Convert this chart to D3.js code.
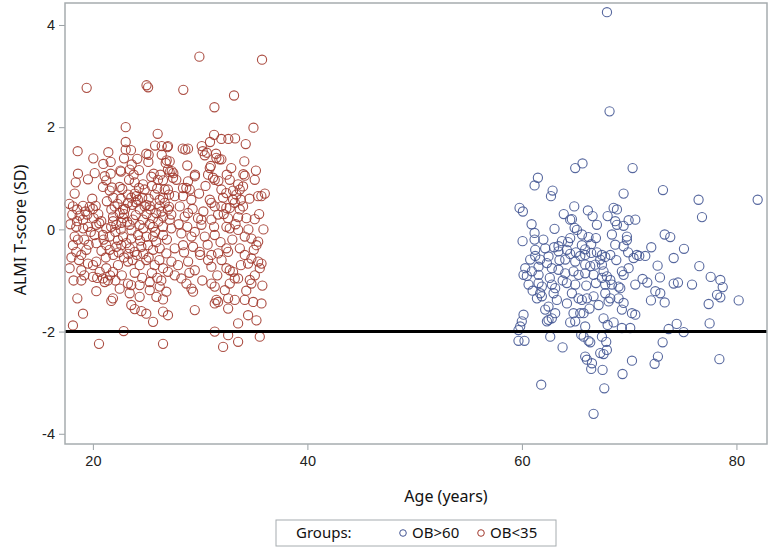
<!DOCTYPE html>
<html>
<head>
<meta charset="utf-8">
<script src="https://cdn.jsdelivr.net/npm/d3@7"></script>
<style>
  body { margin: 0; background: #fff; }
  svg { display: block; font-family: "Noto Sans", "Open Sans", sans-serif; }
  .tick text { fill: #222; font-size: 14.5px; }
  .tick line { stroke: #9aa1a5; }
</style>
</head>
<body>
<svg id="chart" width="770" height="549"></svg>
<script>
// ALMI T-score by age, two groups
const groupNames = ["OB>60", "OB<35"];
const groupColors = ["#445694", "#A23A2E"];
const xTicks = [20, 40, 60, 80];
const yTicks = [-4, -2, 0, 2, 4];
const cutoff = -2;

// OB<35 : [age, T-score]
const youngPoints = [
  [19.42,2.77],[25.0,2.82],[25.15,2.78],[29.93,3.38],[35.77,3.32],[28.43,2.73],[33.16,2.62],[31.33,2.39],
  [34.97,1.99],[23.06,2.0],[26.04,1.87],[31.3,1.85],[31.98,1.77],[32.63,1.77],[33.26,1.78],[34.25,1.67],
  [18.58,1.53],[20.04,1.39],[21.44,1.51],[20.97,1.28],[21.66,1.32],[23.06,1.71],[23.06,1.56],[23.55,1.55],
  [22.9,1.39],[23.62,1.27],[24.14,1.38],[24.3,1.16],[24.98,1.48],[25.2,1.46],[25.17,1.32],[25.8,1.64],
  [26.42,1.63],[26.94,1.61],[26.42,1.46],[26.88,1.35],[28.38,1.58],[28.62,1.56],[28.87,1.58],[28.8,1.25],
  [30.15,1.63],[30.24,1.53],[30.43,1.45],[30.62,1.5],[30.92,1.71],[31.48,1.48],[31.79,1.37],[31.98,1.37],
  [30.99,1.24],[34.12,1.33],[20.17,1.1],[18.61,1.09],[21.66,1.09],[22.62,1.13],[27.35,1.14],[27.5,1.1],
  [29.52,1.07],[32.48,1.07],[34.03,1.08],
  [26.79,1.3],[18.4,0.92],[19.54,0.98],[21.1,1.04],[21.25,0.96],[20.94,0.83],[21.78,0.82],[21.57,0.76],
  [22.56,1.15],[23.43,1.17],[23.8,1.07],[23.37,0.97],[23.9,0.92],[24.3,0.81],[24.67,0.88],[24.83,0.78],
  [24.05,0.65],[25.45,1.03],[25.67,1.09],[26.29,1.07],[26.07,0.97],[26.54,0.96],[27.16,1.12],[22.5,0.83],
  [22.74,0.79],[23.27,0.68],[23.58,0.62],[26.7,0.78],[27.1,0.68],[26.54,0.62],[26.23,0.58],
  [19.94,0.6],[20.26,0.46],[19.7,0.44],[19.08,0.46],[18.14,0.45],[18.54,0.39],[18.08,0.29],[18.77,0.27],
  [19.48,0.29],[20.07,0.22],[22.03,0.45],[21.72,0.39],[21.88,0.25],[22.5,0.32],[22.81,0.22],
  [23.27,0.52],[23.68,0.48],[23.99,0.53],[24.37,0.39],[24.83,0.45],[24.98,0.48],[25.3,0.46],[25.36,0.39],
  [25.76,0.68],[26.23,0.45],[26.7,0.52],[27.1,0.44],[25.91,0.32],[26.54,0.25],[25.6,0.22],[24.67,0.19],
  [23.74,0.19],[22.81,0.39],[18.52,0.16],[19.08,0.19],[20.78,0.16],[21.88,0.16],[22.65,0.13],
  [27.0,1.63],[31.51,1.4],[27.16,1.33],[27.0,1.17],[27.78,0.97],[27.47,1.01],[29.5,1.04],[28.87,0.94],
  [28.4,0.81],[30.9,1.2],[30.74,1.07],[31.2,1.01],[31.36,0.97],[32.76,0.97],[33.54,0.88],[34.0,0.84],
  [34.16,1.05],[35.09,0.97],[31.98,0.78],[32.44,0.71],[33.07,0.76],[33.38,0.68],[33.69,0.78],[33.79,0.58],
  [32.14,0.62],[33.07,0.58],[35.4,0.65],[35.71,0.65],[36.03,0.7],[27.0,0.78],[27.63,0.65],[28.4,0.65],
  [29.18,0.58],[28.71,0.81],[29.03,0.78],[30.9,0.58],[31.05,0.52],[31.36,0.45],[31.98,0.45],[32.44,0.42],
  [32.76,0.42],[33.23,0.52],[33.69,0.39],[27.0,0.39],[27.31,0.29],[27.16,0.19],[28.56,0.25],[28.87,0.32],
  [29.8,0.22],[30.11,0.19],[31.05,0.19],[31.67,0.29],[32.6,0.22],[33.54,0.24],[34.31,0.22],[35.09,0.2],
  [18.45,0.05],[19.54,0.05],[20.32,0.09],[21.25,0.02],[22.19,0.09],[23.43,0.09],[24.36,0.09],[25.61,0.05],
  [26.54,0.05],[18.3,-0.14],[20.16,-0.11],[20.94,-0.11],[21.56,-0.14],[22.34,-0.21],[22.81,-0.14],[23.58,-0.18],
  [24.21,-0.11],[24.98,-0.14],[25.61,-0.14],[26.54,-0.11],[18.14,-0.31],[18.45,-0.44],[18.92,-0.5],[19.39,-0.4],
  [20.32,-0.27],[21.25,-0.31],[21.56,-0.4],[22.19,-0.34],[22.65,-0.31],[23.12,-0.27],[23.43,-0.37],[23.9,-0.44],
  [24.52,-0.34],[25.14,-0.31],[25.61,-0.4],[26.23,-0.37],[26.85,-0.47],[17.83,-0.76],[18.92,-0.8],[19.54,-0.67],
  [20.01,-0.7],[20.32,-0.63],[20.63,-0.83],[21.25,-0.76],[21.87,-0.83],[22.34,-0.7],[23.27,-0.63],[24.36,-0.7],
  [24.98,-0.6],[25.76,-0.7],[26.54,-0.76],[27.0,-0.83],[18.92,-1.0],[20.01,-0.93],[20.94,-0.96],[21.1,-1.03],
  [21.41,-1.0],[23.27,-1.06],[23.58,-1.09],[24.36,-1.09],[25.3,-1.03],[26.23,-1.12],[26.85,-1.22],[26.38,-1.0],
  [20.32,-1.21],[22.5,-1.16],[23.43,-1.25],[25.3,-1.19],[25.92,-1.32],[26.54,-1.37],[18.55,-1.35],[21.72,-1.4],
  [21.87,-1.35],[24.36,-1.32],[23.58,-1.48],[23.9,-1.56],[24.52,-1.6],[24.98,-1.65],[25.61,-1.81],[26.54,-1.61],
  [27.0,-1.68],[19.08,-1.65],[18.14,-1.88],[22.87,-1.99],[20.57,-2.24],[26.54,-2.24],
  [27.32,0.02],[28.25,-0.08],[29.19,-0.14],[30.12,0.09],[30.43,-0.14],[31.36,-0.11],[32.45,0.05],[32.76,0.02],
  [33.54,-0.01],[34.16,-0.14],[34.78,-0.18],[35.41,-0.24],[35.25,-0.31],[27.63,-0.37],[28.41,-0.31],[29.34,-0.34],
  [29.96,-0.44],[31.05,-0.5],[31.67,-0.47],[32.45,-0.37],[32.61,-0.44],[33.7,-0.37],[34.16,-0.5],[34.78,-0.57],
  [35.41,-0.63],[27.32,-0.63],[27.94,-0.7],[28.88,-0.63],[29.5,-0.8],[30.74,-0.6],[31.05,-0.73],[32.45,-0.76],
  [32.76,-0.8],[33.07,-0.83],[33.23,-0.96],[34.47,-0.67],[35.72,-0.67],[35.56,-0.76],[34.63,-0.99],[27.63,-0.9],
  [28.25,-0.96],[28.72,-1.06],[29.19,-1.16],[29.34,-1.22],[31.05,-1.06],[31.36,-1.12],[32.3,-1.19],[32.76,-1.06],
  [33.54,-0.96],[34.78,-1.06],[31.52,-1.38],[31.67,-1.42],[31.36,-1.45],[32.61,-1.35],[33.23,-1.38],[34.16,-1.38],
  [34.94,-1.42],[35.72,-1.45],[32.61,-1.55],[29.5,-1.58],[34.47,-1.68],[35.25,-1.78],[33.54,-1.84],
  [31.36,-2.0],[32.61,-2.07],[33.54,-2.2],[32.14,-2.3],[35.56,-2.1],
  [19.1,0.02],[19.8,-0.05],[20.6,0.12],[21.0,-0.2],[21.7,0.05],[22.1,-0.05],[22.6,0.0],[22.9,0.3],
  [23.2,0.15],[23.6,-0.02],[24.0,0.28],[24.4,-0.22],[24.7,0.02],[25.0,0.3],[25.3,0.1],[25.8,-0.05],
  [26.1,0.15],[26.9,-0.2],[19.3,0.35],[20.0,0.4],[20.5,0.3],[21.3,0.55],[21.9,0.62],[22.3,0.5],
  [22.6,0.6],[23.0,0.4],[23.9,0.7],[24.2,0.58],[24.6,0.62],[25.2,0.6],[25.5,0.85],[26.0,0.8],
  [26.4,0.35],[19.2,-0.2],[19.6,-0.3],[20.8,-0.42],[21.2,-0.55],[21.9,-0.5],[22.4,-0.45],[22.9,-0.55],
  [23.3,-0.48],[23.7,-0.6],[24.1,-0.5],[24.7,-0.48],[25.2,-0.55],[25.9,-0.25],[26.2,-0.6],[18.7,-0.6],
  [19.2,-0.9],[20.4,-0.95],[21.6,-0.9],[22.1,-1.0],[22.7,-0.9],[23.9,-0.85],[24.6,-0.95],[25.5,-0.85],
  [26.0,-0.95],[28.0,0.1],[28.8,0.05],[29.5,-0.05],[30.3,0.35],[30.7,-0.3],[31.3,0.05],[31.9,-0.25],
  [32.2,0.3],[33.0,-0.2],[33.3,0.1],[34.0,0.45],[34.5,0.0],[35.0,-0.4],[35.5,0.3],[28.1,0.45],
  [29.3,0.4],[29.9,0.7],[30.5,0.85],[31.7,0.95],[32.9,1.2],[34.6,0.6],[35.2,1.15],[35.8,-1.1],
  [35.9,0.0],[28.5,-0.45],[29.0,-0.85],[30.2,-1.0],[30.0,-0.5],[31.6,-0.9],[32.0,-0.6],[33.8,-0.7],
  [34.3,-1.2],[35.1,-0.9],[17.9,0.1],[18.0,-0.55],[18.3,0.7],[18.2,-1.0],[17.8,0.5],[18.6,-0.2]
];

// OB>60 : [age, T-score]
const oldPoints = [
  [67.93,4.25],[68.17,2.31],[64.97,1.2],[65.65,1.29],[70.32,1.2],[61.49,1.01],[61.18,0.86],[62.86,0.76],
  [62.71,0.65],[69.48,0.7],[73.15,0.77],[76.47,0.58],[81.98,0.58],
  [59.78,0.42],[60.09,0.35],[64.88,0.45],[66.15,0.37],[66.59,0.26],[64.5,0.19],[64.66,0.2],[68.55,0.42],
  [68.86,0.39],[67.99,0.26],[68.7,0.16],[68.86,0.09],[69.48,0.07],[69.95,0.18],[70.57,0.19],
  [64.91,0.03],[65.13,-0.01],[66.99,0.09],[63.04,0.01],[61.18,-0.07],[61.18,-0.2],[60.06,-0.23],[64.5,-0.17],
  [66.21,-0.15],[66.9,-0.17],[68.39,-0.1],[69.79,-0.14],[69.79,-0.21],[63.73,-0.23],[63.41,-0.33],[65.59,-0.31],
  [65.9,-0.39],[66.46,-0.29],[68.7,-0.3],[69.48,-0.33],
  [62.17,-0.37],[63.0,-0.35],[63.41,-0.43],[64.19,-0.4],[64.5,-0.48],[65.03,-0.45],[65.44,-0.52],[65.9,-0.5],
  [66.46,-0.46],[66.99,-0.45],[67.46,-0.5],[67.77,-0.54],[68.24,-0.5],[67.3,-0.59],
  [61.24,-0.4],[61.24,-0.52],[60.77,-0.59],[61.7,-0.59],[62.48,-0.53],[62.33,-0.66],[70.41,-0.56],[70.72,-0.5],
  [64.04,-0.59],[64.97,-0.63],[65.9,-0.69],[66.37,-0.72],[66.84,-0.69],[67.46,-0.69],
  [60.31,-0.76],[60.15,-0.89],[60.46,-0.91],[60.93,-0.82],[61.55,-0.73],[61.55,-0.89],
  [62.79,-0.76],[63.41,-0.79],[64.04,-0.86],[64.81,-0.82],[65.28,-0.89],[65.9,-0.86],[66.68,-0.89],[67.61,-0.82],
  [69.32,-0.82],[69.95,-0.76],[69.48,-0.89],
  [60.62,-1.08],[61.55,-1.05],[61.86,-1.12],[62.79,-1.08],[63.1,-1.15],[64.19,-1.05],[64.97,-1.08],[67.46,-0.95],
  [67.92,-0.92],[68.24,-0.99],[67.77,-1.08],[68.39,-1.08],[69.17,-1.15],[70.57,-1.08],
  [61.7,-1.25],[61.4,-1.35],[61.86,-1.31],[62.95,-1.25],[64.66,-1.25],[65.28,-1.35],[65.59,-1.38],[66.06,-1.35],
  [66.68,-1.31],[67.77,-1.25],[68.24,-1.35],[69.01,-1.35],[69.48,-1.44],[69.01,-1.12],
  [63.26,-1.38],[62.48,-1.51],[62.17,-1.57],[63.1,-1.64],[62.79,-1.74],[64.81,-1.64],[65.44,-1.64],[65.75,-1.64],
  [67.15,-1.48],[68.08,-1.41],[69.32,-1.57],[70.26,-1.64],[70.57,-1.67],
  [60.15,-1.67],[59.99,-1.8],[59.84,-1.9],[59.68,-1.97],[62.33,-1.8],[62.48,-1.77],[64.5,-1.82],[64.97,-1.8],
  [65.9,-1.9],[67.99,-1.87],[67.61,-1.74],[68.55,-1.82],[69.32,-1.93],[70.1,-1.93],
  [59.68,-2.18],[60.24,-2.18],[62.64,-2.1],[63.79,-2.31],[65.53,-2.06],[65.75,-2.1],[66.21,-2.18],[66.37,-2.21],
  [67.46,-2.1],[67.86,-2.2],[67.92,-2.36],[67.3,-2.42],[67.61,-2.44],[65.9,-2.49],[66.06,-2.55],[66.53,-2.62],
  [66.46,-2.73],[67.52,-2.75],[70.26,-2.57],[69.38,-2.83],[61.8,-3.04],[67.68,-3.11],[66.68,-3.61],
  [76.79,0.24],[73.31,-0.1],[73.83,-0.15],[72.06,-0.35],[75.11,-0.38],[70.94,-0.52],[71.5,-0.52],[74.15,-0.56],
  [72.65,-0.71],[76.54,-0.72],[72.87,-0.94],[71.25,-0.97],[71.69,-1.04],[74.15,-1.06],[74.55,-1.04],[75.86,-1.08],
  [77.6,-0.93],[78.5,-0.99],[78.72,-1.13],[72.44,-1.21],[72.9,-1.25],[78.19,-1.28],[78.5,-1.33],[72.03,-1.39],
  [73.31,-1.43],[77.41,-1.46],[80.21,-1.39],[74.43,-1.85],[77.5,-1.84],[73.68,-1.95],[75.08,-2.01],[73.12,-2.21],
  [72.68,-2.49],[72.37,-2.63],[78.41,-2.54],
  [62.0,-0.2],[63.5,-0.6],[64.3,-0.25],[65.6,-0.1],[66.0,-1.1],[66.9,-1.05],[63.8,-1.0],[62.6,-0.95],
  [61.0,-1.2],[64.2,-1.45],[66.3,-1.55],[68.8,-0.6],[69.9,-0.45],[63.9,0.3],[60.9,0.1]
];

const svg = d3.select("#chart");
const plot = { left: 65, right: 767, top: 3, bottom: 444 };

const x = d3.scaleLinear().domain([17.4, 82.85]).range([plot.left, plot.right]);
const y = d3.scaleLinear().domain([-4.2, 4.43]).range([plot.bottom, plot.top]);

// axes
let yAxis = svg.append("g")
    .attr("transform", `translate(${plot.left},0)`)
    .call(d3.axisLeft(y).tickValues(yTicks).tickSize(6).tickPadding(4));
yAxis.select(".domain").remove();
// plain hyphen for negatives, as in the original
yAxis.selectAll(".tick text").text(d => d < 0 ? "-" + Math.abs(d) : d);

let xAxis = svg.append("g")
    .attr("transform", `translate(0,${plot.bottom})`)
    .call(d3.axisBottom(x).tickValues(xTicks).tickSize(6).tickPadding(6));
xAxis.select(".domain").remove();

// points
const groups = [oldPoints, youngPoints];
groups.forEach((pts, i) => {
    svg.append("g")
        .selectAll("circle")
        .data(pts)
        .enter()
        .append("circle")
            .attr("cx", d => x(d[0]))
            .attr("cy", d => y(d[1]))
            .attr("r", 4.6)
            .attr("fill", "none")
            .attr("stroke", groupColors[i])
            .attr("stroke-opacity", 0.9)
            .attr("stroke-width", 1.1);
});

// reference line at -2
svg.append("line")
    .attr("x1", plot.left).attr("x2", plot.right)
    .attr("y1", y(cutoff)).attr("y2", y(cutoff))
    .attr("stroke", "#000")
    .attr("stroke-width", 3);

// frame
svg.append("rect")
    .attr("x", plot.left).attr("y", plot.top)
    .attr("width", plot.right - plot.left)
    .attr("height", plot.bottom - plot.top)
    .attr("fill", "none")
    .attr("stroke", "#a6acaf")
    .attr("stroke-width", 1.5);

// axis titles
svg.append("text")
    .attr("transform", "translate(22,230) rotate(-90)")
    .attr("text-anchor", "middle")
    .attr("dominant-baseline", "middle")
    .attr("font-size", 16)
    .attr("fill", "#111")
    .text("ALMI T-score (SD)");

svg.append("text")
    .attr("x", 446)
    .attr("y", 502)
    .attr("text-anchor", "middle")
    .attr("font-size", 16)
    .attr("fill", "#111")
    .text("Age (years)");

// legend
let legend = svg.append("g").attr("transform", "translate(276,520)");
legend.append("rect")
    .attr("width", 280).attr("height", 26)
    .attr("fill", "none")
    .attr("stroke", "#a6acaf");
legend.append("text")
    .attr("x", 20).attr("y", 18)
    .attr("font-size", 15)
    .attr("fill", "#111")
    .text("Groups:");
const legendX = [127, 205];
groupNames.forEach((name, i) => {
    legend.append("circle")
        .attr("cx", legendX[i]).attr("cy", 13)
        .attr("r", 3.3)
        .attr("fill", "none")
        .attr("stroke", groupColors[i]);
    legend.append("text")
        .attr("x", legendX[i] + 9).attr("y", 18)
        .attr("font-size", 15)
        .attr("fill", "#111")
        .text(name);
});
</script>
</body>
</html>
